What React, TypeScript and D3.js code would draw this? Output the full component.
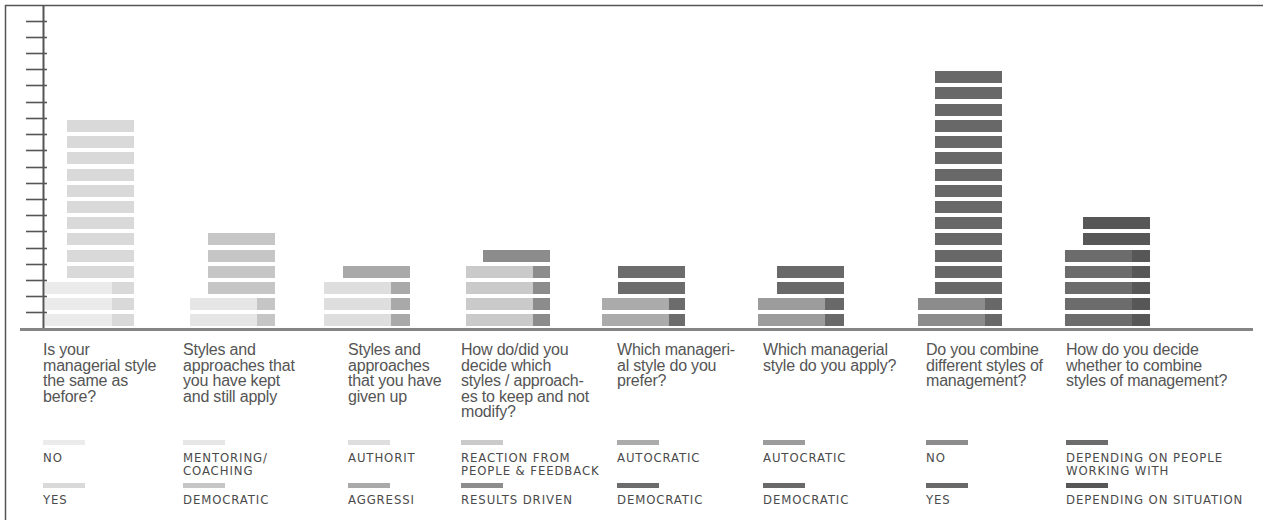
import React from "react";
import * as d3 from "d3";

const questions = [
  "Is your|managerial style|the same as|before?",
  "Styles and|approaches that|you have kept|and still apply",
  "Styles and|approaches|that you have|given up",
  "How do/did you|decide which|styles / approach-|es to keep and not|modify?",
  "Which manageri-|al style do you|prefer?",
  "Which managerial|style do you apply?",
  "Do you combine|different styles of|management?",
  "How do you decide|whether to combine|styles of management?",
];
const seriesALabels = ["NO", "MENTORING/|COACHING", "AUTHORIT", "REACTION FROM|PEOPLE & FEEDBACK", "AUTOCRATIC", "AUTOCRATIC", "NO", "DEPENDING ON PEOPLE|WORKING WITH"];
const seriesBLabels = ["YES", "DEMOCRATIC", "AGGRESSI", "RESULTS DRIVEN", "DEMOCRATIC", "DEMOCRATIC", "YES", "DEPENDING ON SITUATION"];
const seriesAValues = [3, 2, 3, 4, 2, 2, 2, 5];
const seriesBValues = [13, 6, 4, 5, 4, 4, 16, 7];

// layout (pixel positions of each question group)
const groupBarB = [67, 208, 343, 483, 618, 777, 935, 1083];
const groupBarA = [45, 190, 324, 466, 602, 758, 918, 1065];
const groupText = [43, 183, 348, 461, 617, 763, 926, 1066];
const colorsA = ["#ebebeb", "#e6e6e6", "#dedede", "#cacaca", "#ababab", "#9c9c9c", "#8c8c8c", "#6c6c6c"];
const colorsB = ["#d9d9d9", "#c6c6c6", "#a9a9a9", "#8c8c8c", "#6c6c6c", "#696969", "#686868", "#575757"];

const W = 1263, H = 520;

export default function App() {
  const idx = questions.map((_, i) => i);
  const xB = d3.scaleOrdinal<number, number>().domain(idx).range(groupBarB);
  const xA = d3.scaleOrdinal<number, number>().domain(idx).range(groupBarA);
  const xT = d3.scaleOrdinal<number, number>().domain(idx).range(groupText);
  const y = d3.scaleLinear().domain([0, 19]).range([328.5, 328.5 - 19 * 16.2]);
  const brickH = 12;
  const barW = 67;
  const ticks = d3.range(1, 20);
  const by = (r: number) => Math.round(y(r + 1) + 2);

  return (
    <svg width={W} height={H} style={{ position: "absolute", left: 0, top: 0, background: "#fff" }}>
      <rect x={0} y={0} width={W} height={H} fill="#fff" />
      {/* frame */}
      <line x1={5} x2={W} y1={5.5} y2={5.5} stroke="#555" strokeWidth={1.5} />
      <line x1={5.5} x2={5.5} y1={5} y2={H} stroke="#555" strokeWidth={1.5} />

      {/* bricks B */}
      {idx.map((i) =>
        d3.range(seriesBValues[i]).map((r) => (
          <rect key={`b${i}-${r}`} x={xB(i)} y={by(r)} width={barW} height={brickH} fill={colorsB[i]} />
        ))
      )}
      {/* bricks A */}
      {idx.map((i) =>
        d3.range(seriesAValues[i]).map((r) => (
          <rect key={`a${i}-${r}`} x={xA(i)} y={by(r)} width={barW} height={brickH} fill={colorsA[i]} />
        ))
      )}

      {/* axis */}
      <line x1={43.5} x2={43.5} y1={5} y2={331} stroke="#555" strokeWidth={2} />
      {ticks.map((t) => (
        <line key={t} x1={26} x2={47} y1={Math.round(y(t)) + 0.5} y2={Math.round(y(t)) + 0.5} stroke="#555" strokeWidth={1.6} />
      ))}
      <line x1={20} x2={1253} y1={329.5} y2={329.5} stroke="#858585" strokeWidth={3} />

      {/* question texts */}
      {idx.map((i) => (
        <text key={`q${i}`} x={xT(i)} y={355} fontFamily="Liberation Sans, Arial, sans-serif" fontSize={16} letterSpacing={-0.2} fill="#555">
          {questions[i].split("|").map((l, k) => (
            <tspan key={k} x={xT(i)} dy={k === 0 ? 0 : 15.5}>{l}</tspan>
          ))}
        </text>
      ))}

      {/* legends */}
      {idx.map((i) => (
        <g key={`l${i}`}>
          <rect x={xT(i)} y={440} width={42} height={5} fill={colorsA[i]} />
          <text x={xT(i)} y={462} fontFamily="DejaVu Sans Condensed, Liberation Sans, sans-serif" fontSize={13} letterSpacing={0.9} fill="#4a4a4a">
            {seriesALabels[i].split("|").map((l, k) => (
              <tspan key={k} x={xT(i)} dy={k === 0 ? 0 : 12.5}>{l}</tspan>
            ))}
          </text>
          <rect x={xT(i)} y={483} width={42} height={5} fill={colorsB[i]} />
          <text x={xT(i)} y={504} fontFamily="DejaVu Sans Condensed, Liberation Sans, sans-serif" fontSize={13} letterSpacing={0.9} fill="#4a4a4a">
            {seriesBLabels[i]}
          </text>
        </g>
      ))}
    </svg>
  );
}
